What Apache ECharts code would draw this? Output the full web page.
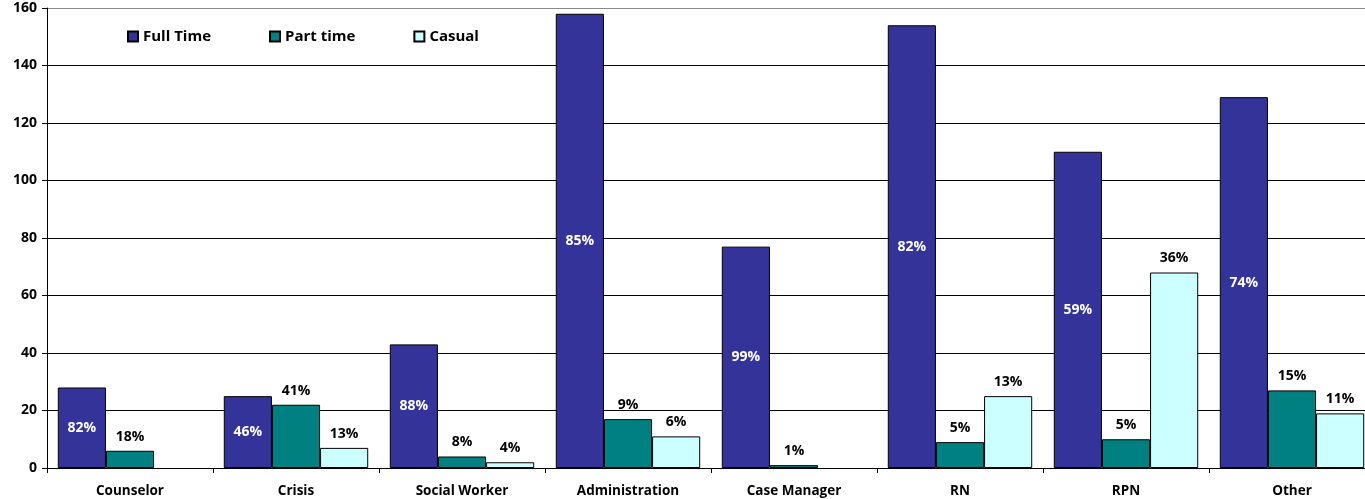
<!DOCTYPE html>
<html>
<head>
<meta charset="utf-8">
<script src="https://cdn.jsdelivr.net/npm/echarts@6/dist/echarts.min.js"></script>
<style>
html,body{margin:0;padding:0;background:#fff;overflow:hidden;width:1365px;height:499px;}
#chart{width:1376px;height:499px;}
</style>
</head>
<body>
<div id="chart"></div>
<script>
var categories = ['Counselor','Crisis','Social Worker','Administration','Case Manager','RN','RPN','Other'];
var fullTime = [28, 25, 43, 158, 77, 154, 110, 129];
var partTime = [6, 22, 4, 17, 1, 9, 10, 27];
var casual = [null, 7, 2, 11, null, 25, 68, 19];
var fullTimeLabels = ['82%','46%','88%','85%','99%','82%','59%','74%'];
var partTimeLabels = ['18%','41%','8%','9%','1%','5%','5%','15%'];
var casualLabels = ['','13%','4%','6%','','13%','36%','11%'];
var yTicks = [0,20,40,60,80,100,120,140,160];

var FONT = '"Open Sans", "Noto Sans", sans-serif';
var chart = echarts.init(document.getElementById('chart'));

function lbl(arr, pos, color){
  return {
    show: true,
    position: pos,
    distance: 7,
    color: color,
    fontFamily: FONT,
    fontWeight: 'bold',
    fontSize: 14,
    formatter: function(p){ return arr[p.dataIndex]; }
  };
}

chart.setOption({
  animation: false,
  backgroundColor: '#fff',
  grid: { left: 47, top: 8, right: 1, bottom: 31, containLabel: false },
  legend: {
    left: 122, top: 24,
    itemWidth: 10, itemHeight: 10, itemGap: 58,
    icon: 'rect',
    textStyle: { fontFamily: FONT, fontWeight: 'bold', fontSize: 15, color: '#000' },
    data: ['Full Time','Part time','Casual']
  },
  xAxis: {
    type: 'category',
    data: categories,
    axisLine: { lineStyle: { color: '#000', width: 1 } },
    axisTick: { show: true, length: 5, lineStyle: { color: '#000' } },
    axisLabel: { margin: 16, color: '#000', fontFamily: FONT, fontWeight: 'bold', fontSize: 13.5, interval: 0 }
  },
  yAxis: {
    type: 'value',
    min: yTicks[0], max: yTicks[yTicks.length-1], interval: 20,
    axisLine: { show: true, lineStyle: { color: '#000' } },
    axisTick: { show: true, length: 5, lineStyle: { color: '#000' } },
    axisLabel: { margin: 10, color: '#000', fontFamily: FONT, fontWeight: 'bold', fontSize: 14 },
    splitLine: { show: true, lineStyle: { color: ['#000','#000','#000','#000','#000','#000','#000','#000','#888'], width: 1 } }
  },
  series: [
    {
      name: 'Full Time', type: 'bar', data: fullTime,
      barGap: '0%', barCategoryGap: '13%',
      itemStyle: { color: '#333399', borderColor: '#000', borderWidth: 1 },
      label: lbl(fullTimeLabels, 'inside', '#fff')
    },
    {
      name: 'Part time', type: 'bar', data: partTime,
      barGap: '0%', barCategoryGap: '13%',
      itemStyle: { color: '#008080', borderColor: '#000', borderWidth: 1 },
      label: lbl(partTimeLabels, 'top', '#000')
    },
    {
      name: 'Casual', type: 'bar', data: casual,
      barGap: '0%', barCategoryGap: '13%',
      itemStyle: { color: '#CCFFFF', borderColor: '#000', borderWidth: 1 },
      label: lbl(casualLabels, 'top', '#000')
    }
  ]
});
</script>
</body>
</html>
